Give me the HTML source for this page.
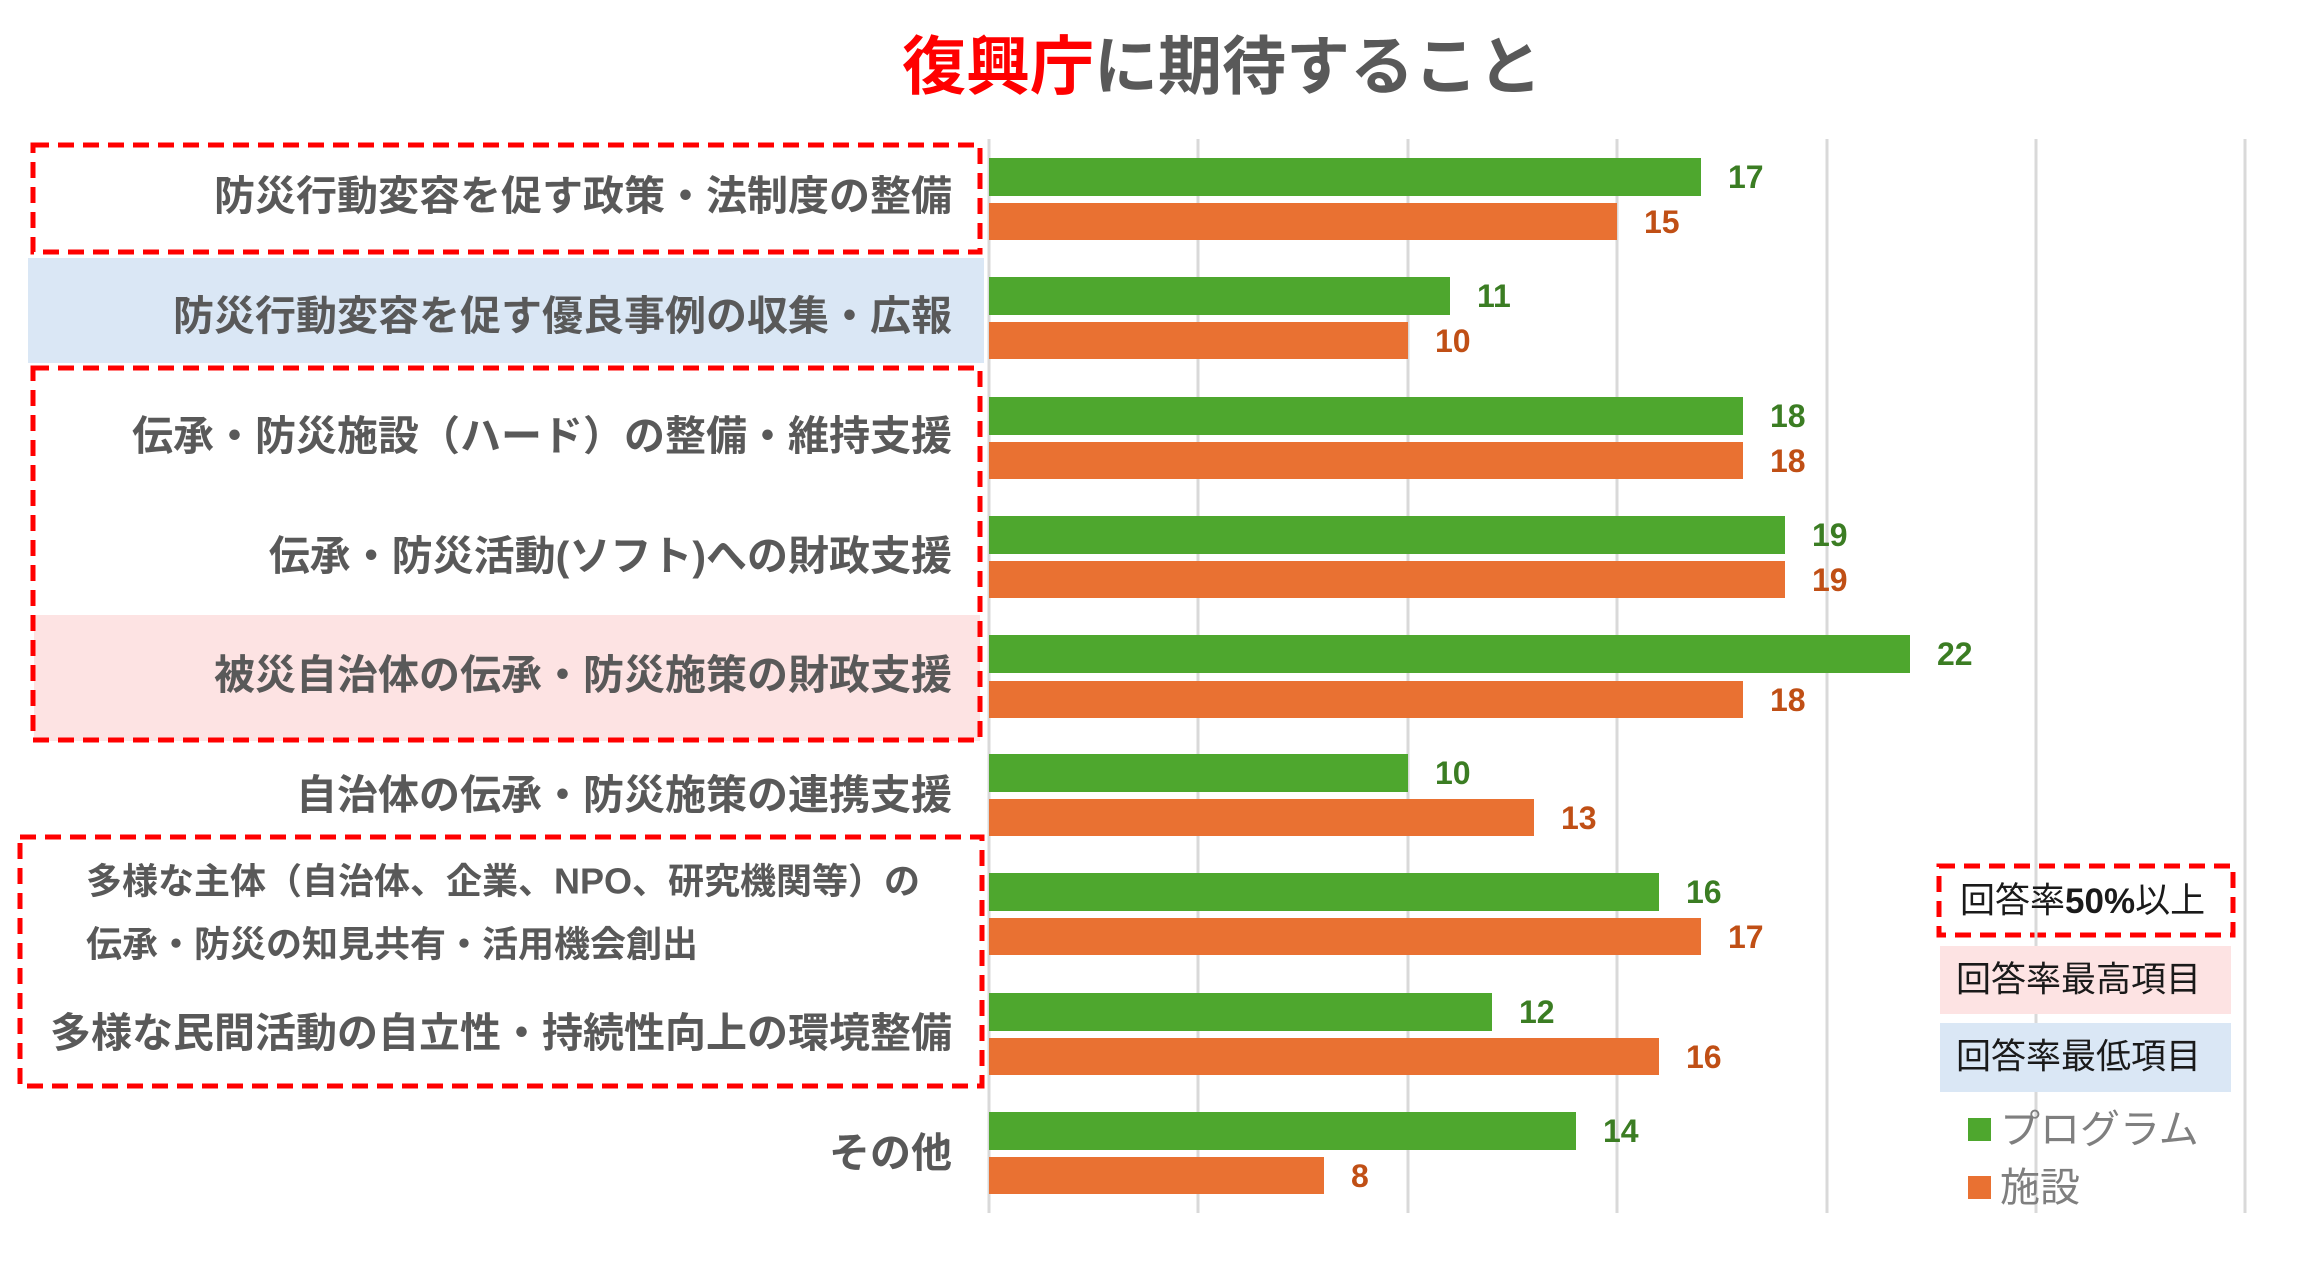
<!DOCTYPE html>
<html><head><meta charset="utf-8"><style>
html,body{margin:0;padding:0;background:#fff;}
svg{display:block;}
text{font-family:"Liberation Sans","Noto Sans CJK JP",sans-serif;}
</style></head><body>
<svg width="2310" height="1265" viewBox="0 0 2310 1265" xmlns="http://www.w3.org/2000/svg">
<rect x="28" y="258" width="956" height="105" fill="#dae7f5"/>
<rect x="34" y="615" width="946" height="126" fill="#fde3e3"/>
<g fill="none" stroke="#ff0000" stroke-width="5" stroke-dasharray="16,9">
<rect x="33" y="145" width="947" height="107"/>
<rect x="33" y="368" width="947" height="372"/>
<rect x="20" y="837" width="962" height="249"/>
<rect x="1939" y="866" width="294" height="69"/>
</g>
<g stroke="#d9d9d9" stroke-width="3">
<line x1="989" y1="139" x2="989" y2="1213"/>
<line x1="1198" y1="139" x2="1198" y2="1213"/>
<line x1="1408" y1="139" x2="1408" y2="1213"/>
<line x1="1617" y1="139" x2="1617" y2="1213"/>
<line x1="1827" y1="139" x2="1827" y2="1213"/>
<line x1="2036" y1="139" x2="2036" y2="1213"/>
<line x1="2245" y1="139" x2="2245" y2="1213"/>
</g>
<text x="1222" y="67" text-anchor="middle" dominant-baseline="central" font-size="64" font-weight="bold" fill="#595959"><tspan fill="#ff0000">復興庁</tspan>に期待すること</text>
<rect x="1940" y="946" width="291" height="68" fill="#fde3e3"/>
<rect x="1940" y="1023" width="291" height="69" fill="#dae7f5"/>
<g font-size="35" fill="#1a1a1a" dominant-baseline="central">
<text x="1960" y="901">回答率<tspan font-weight="bold">50%</tspan>以上</text>
<text x="1956" y="980">回答率最高項目</text>
<text x="1956" y="1057">回答率最低項目</text>
</g>
<rect x="1968" y="1118" width="23" height="23" fill="#4ea72e"/>
<rect x="1968" y="1176" width="23" height="23" fill="#e97132"/>
<g font-size="40" fill="#7f7f7f" dominant-baseline="central">
<text x="2000" y="1130">プログラム</text>
<text x="2000" y="1188">施設</text>
</g>
<g>
<rect x="989" y="158" width="712" height="38" fill="#4ea72e"/><rect x="989" y="203" width="628" height="37" fill="#e97132"/>
<rect x="989" y="277" width="461" height="38" fill="#4ea72e"/><rect x="989" y="322" width="419" height="37" fill="#e97132"/>
<rect x="989" y="397" width="754" height="38" fill="#4ea72e"/><rect x="989" y="442" width="754" height="37" fill="#e97132"/>
<rect x="989" y="516" width="796" height="38" fill="#4ea72e"/><rect x="989" y="561" width="796" height="37" fill="#e97132"/>
<rect x="989" y="635" width="921" height="38" fill="#4ea72e"/><rect x="989" y="681" width="754" height="37" fill="#e97132"/>
<rect x="989" y="754" width="419" height="38" fill="#4ea72e"/><rect x="989" y="799" width="545" height="37" fill="#e97132"/>
<rect x="989" y="873" width="670" height="38" fill="#4ea72e"/><rect x="989" y="918" width="712" height="37" fill="#e97132"/>
<rect x="989" y="993" width="503" height="38" fill="#4ea72e"/><rect x="989" y="1038" width="670" height="37" fill="#e97132"/>
<rect x="989" y="1112" width="587" height="38" fill="#4ea72e"/><rect x="989" y="1157" width="335" height="37" fill="#e97132"/>
</g>
<g font-size="32" font-weight="bold" dominant-baseline="central">
<g fill="#3b7d23">
<text x="1728" y="177">17</text><text x="1477" y="296">11</text><text x="1770" y="416">18</text>
<text x="1812" y="535">19</text><text x="1937" y="654">22</text><text x="1435" y="773">10</text>
<text x="1686" y="892">16</text><text x="1519" y="1012">12</text><text x="1603" y="1131">14</text>
</g>
<g fill="#c04f15">
<text x="1644" y="222">15</text><text x="1435" y="341">10</text><text x="1770" y="461">18</text>
<text x="1812" y="580">19</text><text x="1770" y="700">18</text><text x="1561" y="818">13</text>
<text x="1728" y="937">17</text><text x="1686" y="1057">16</text><text x="1351" y="1176">8</text>
</g>
</g>
<g font-size="41" font-weight="bold" fill="#595959" text-anchor="end" dominant-baseline="central">
<text x="952" y="196">防災行動変容を促す政策・法制度の整備</text>
<text x="952" y="316">防災行動変容を促す優良事例の収集・広報</text>
<text x="952" y="436">伝承・防災施設（ハード）の整備・維持支援</text>
<text x="952" y="556">伝承・防災活動(ソフト)への財政支援</text>
<text x="952" y="675">被災自治体の伝承・防災施策の財政支援</text>
<text x="952" y="795">自治体の伝承・防災施策の連携支援</text>
<text x="952" y="1033">多様な民間活動の自立性・持続性向上の環境整備</text>
<text x="952" y="1153">その他</text>
</g>
<g font-size="36" font-weight="bold" fill="#595959" dominant-baseline="central">
<text x="86" y="881">多様な主体（自治体、企業、NPO、研究機関等）の</text>
<text x="86" y="944">伝承・防災の知見共有・活用機会創出</text>
</g>
</svg>
</body></html>
